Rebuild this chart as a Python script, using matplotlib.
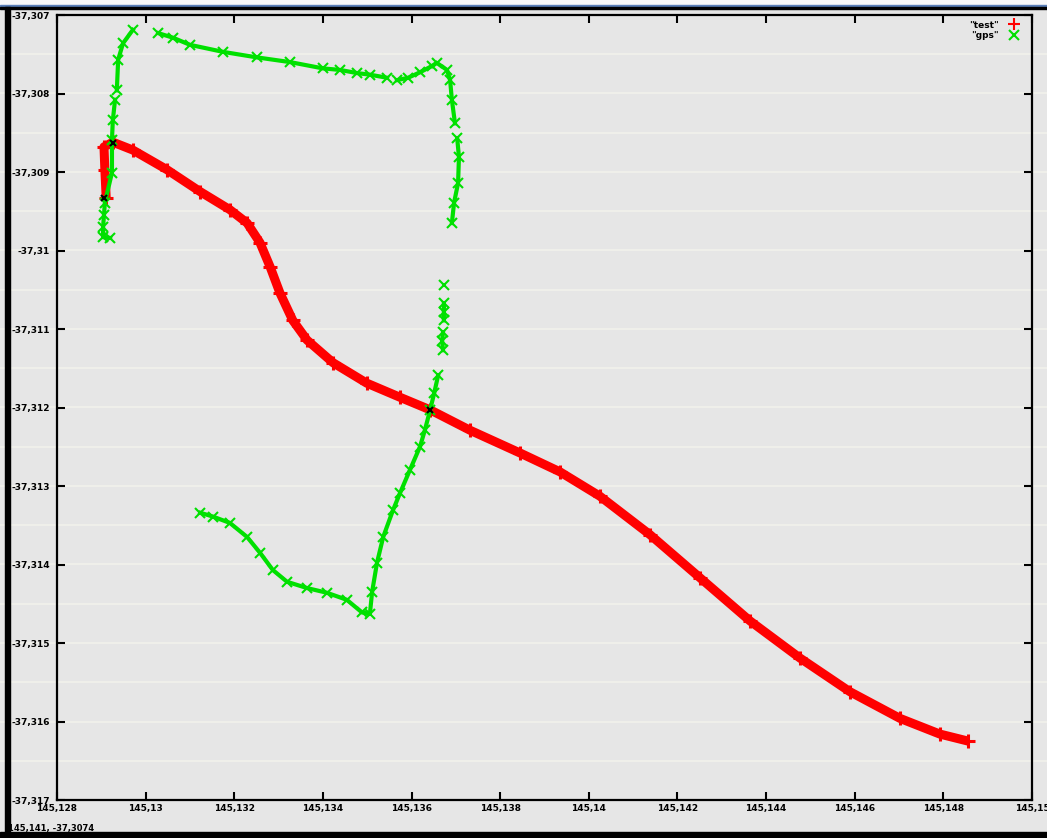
# gnuplot style track plot: test vs gps
import matplotlib
matplotlib.use('Agg')
import matplotlib.pyplot as plt
from matplotlib.lines import Line2D
from matplotlib.patches import Rectangle
import numpy as np

nan = np.nan

# "test" track (lon, lat)
test_lon = [145.12911, 145.12908, 145.12906, 145.12926, 145.12971, 145.13048,
            145.13123, 145.13190, 145.13229, 145.13258, 145.13281, 145.13303,
            145.13332, 145.13364, 145.13423, 145.13499, 145.13574, 145.13642,
            145.13732, 145.13845, 145.13935, 145.14025, 145.14138, 145.14251,
            145.14364, 145.14476, 145.14589, 145.14702, 145.14792, 145.14856]
test_lat = [-37.30933, -37.30897, -37.30868, -37.30862, -37.30872, -37.30897,
            -37.30925, -37.30948, -37.30965, -37.30990, -37.31021, -37.31054,
            -37.31089, -37.31114, -37.31143, -37.31169, -37.31187, -37.31203,
            -37.31229, -37.31258, -37.31282, -37.31313, -37.31362, -37.31417,
            -37.31472, -37.31519, -37.31562, -37.31596, -37.31616, -37.31625]

# "gps" track, nan = gap in the recording
gps_lon = [145.13123, 145.13152, 145.13190, 145.13229, 145.13258, 145.13287,
           145.13319, 145.13364, 145.13409, 145.13454, 145.13488, 145.13506,
           145.13511, 145.13522, 145.13536, 145.13558, 145.13574, 145.13596,
           145.13619, 145.13630, 145.13642, 145.13651, 145.13660, nan,
           145.13671, 145.13669, 145.13671, nan,
           145.13673, 145.13673, 145.13673, nan,
           145.13673, nan,
           145.13691, 145.13696, 145.13705, 145.13707, 145.13703, nan,
           145.13698, 145.13691, 145.13687, 145.13680, 145.13657, 145.13646,
           145.13619, 145.13592, 145.13567, nan,
           145.13545, 145.13506, 145.13477, 145.13439, 145.13400, 145.13326,
           145.13251, 145.13175, 145.13100, 145.13062, 145.13028, nan,
           145.12971, 145.12949, 145.12938, 145.12935, nan,
           145.12931, 145.12926, 145.12924, 145.12924, 145.12908, 145.12906,
           145.12904, 145.12904, 145.12920]
gps_lat = [-37.31334, -37.31339, -37.31347, -37.31365, -37.31385, -37.31407,
           -37.31422, -37.31430, -37.31436, -37.31445, -37.31461, -37.31463,
           -37.31435, -37.31398, -37.31365, -37.31331, -37.31309, -37.31280,
           -37.31250, -37.31229, -37.31203, -37.31182, -37.31159, nan,
           -37.31127, -37.31115, -37.31104, nan,
           -37.31089, -37.31078, -37.31067, nan,
           -37.31044, nan,
           -37.30965, -37.30939, -37.30914, -37.30881, -37.30857, nan,
           -37.30838, -37.30808, -37.30783, -37.30770, -37.30761, -37.30765,
           -37.30773, -37.30780, -37.30783, nan,
           -37.30780, -37.30776, -37.30774, -37.30770, -37.30768, -37.30760,
           -37.30754, -37.30747, -37.30738, -37.30729, -37.30723, nan,
           -37.30719, -37.30736, -37.30757, -37.30796, nan,
           -37.30808, -37.30834, -37.30859, -37.30901, -37.30939, -37.30955,
           -37.30970, -37.30983, -37.30984]

# small black marks on the red track
mark_lon = [145.12926, 145.12906, 145.13642]
mark_lat = [-37.30863, -37.30933, -37.31203]

x_ticks = [145.128, 145.130, 145.132, 145.134, 145.136, 145.138,
           145.140, 145.142, 145.144, 145.146, 145.148, 145.150]
x_labels = ['145,128', '145,13', '145,132', '145,134', '145,136', '145,138',
            '145,14', '145,142', '145,144', '145,146', '145,148', '145,15']
y_ticks = [-37.307, -37.308, -37.309, -37.310, -37.311, -37.312,
           -37.313, -37.314, -37.315, -37.316, -37.317]
y_labels = ['-37,307', '-37,308', '-37,309', '-37,31', '-37,311', '-37,312',
            '-37,313', '-37,314', '-37,315', '-37,316', '-37,317']

W, H = 1047, 838
bg = '#e6e6e6'
fig = plt.figure(figsize=(W / 100, H / 100), dpi=100, facecolor=bg)
ax = fig.add_axes([57 / W, 1 - 800 / H, (1032 - 57) / W, (800 - 15) / H])
ax.set_facecolor(bg)
ax.set_xlim(145.128, 145.150)
ax.set_ylim(-37.317, -37.307)

# whitish scan stripes across the window
for yy in np.arange(-37.3165, -37.3071, 0.0005):
    ax.axhline(yy, xmin=-0.06, xmax=1.02, color='#f2f2ec', lw=1.2,
               zorder=0.5, clip_on=False)

ax.plot(test_lon, test_lat, color='#ff0000', lw=6.5, marker='+', ms=10,
        mew=2.2, zorder=3, solid_capstyle='butt')
ax.plot(gps_lon, gps_lat, color='#00e000', lw=3, marker='x', ms=7,
        mew=1.5, zorder=4)
ax.plot(mark_lon, mark_lat, ls='none', color='black', marker='x', ms=5,
        mew=1.5, zorder=5)

ax.set_xticks(x_ticks)
ax.set_xticklabels(x_labels)
ax.set_yticks(y_ticks)
ax.set_yticklabels(y_labels)
ax.tick_params(direction='in', length=6, width=1.5, top=True, right=True,
               labelsize=6.5, colors='black')
ax.tick_params(axis='y', pad=5)
ax.tick_params(axis='x', pad=3)
for lab in ax.get_xticklabels() + ax.get_yticklabels():
    lab.set_fontweight('bold')
for sp in ax.spines.values():
    sp.set_linewidth(1.6)
    sp.set_color('black')

handles = [Line2D([], [], ls='none', marker='+', color='#ff0000', ms=8,
                  mew=1.5, label='"test"'),
           Line2D([], [], ls='none', marker='x', color='#00e000', ms=7,
                  mew=1.5, label='"gps"')]
leg = ax.legend(handles=handles, loc='upper right', frameon=False,
                markerfirst=False, prop={'size': 6.5, 'weight': 'bold'},
                handlelength=1, handletextpad=1.2, labelspacing=0.15,
                bbox_to_anchor=(1022 / W, 1 - 17 / H),
                bbox_transform=fig.transFigure, borderaxespad=0)

fig.text(8 / W, 1 - 828 / H, '145,141, -37,3074', fontsize=6,
         fontweight='bold', va='center', ha='left')

# window frame
fig.add_artist(Rectangle((0, 1 - 5 / H), 1, 5 / H, color='#f8f8f8',
                         transform=fig.transFigure, zorder=10))
fig.add_artist(Rectangle((0, 1 - 7 / H), 1, 2 / H, color='#5a7fb8',
                         transform=fig.transFigure, zorder=10))
fig.add_artist(Rectangle((0, 1 - 9 / H), 1, 2 / H, color='black',
                         transform=fig.transFigure, zorder=10))
fig.add_artist(Rectangle((5 / W, 0), 5 / W, 1 - 7 / H, color='black',
                         transform=fig.transFigure, zorder=10))
fig.add_artist(Rectangle((0, 0), 1, 6 / H, color='black',
                         transform=fig.transFigure, zorder=10))

fig.savefig('out.png', dpi=100, facecolor=bg)
